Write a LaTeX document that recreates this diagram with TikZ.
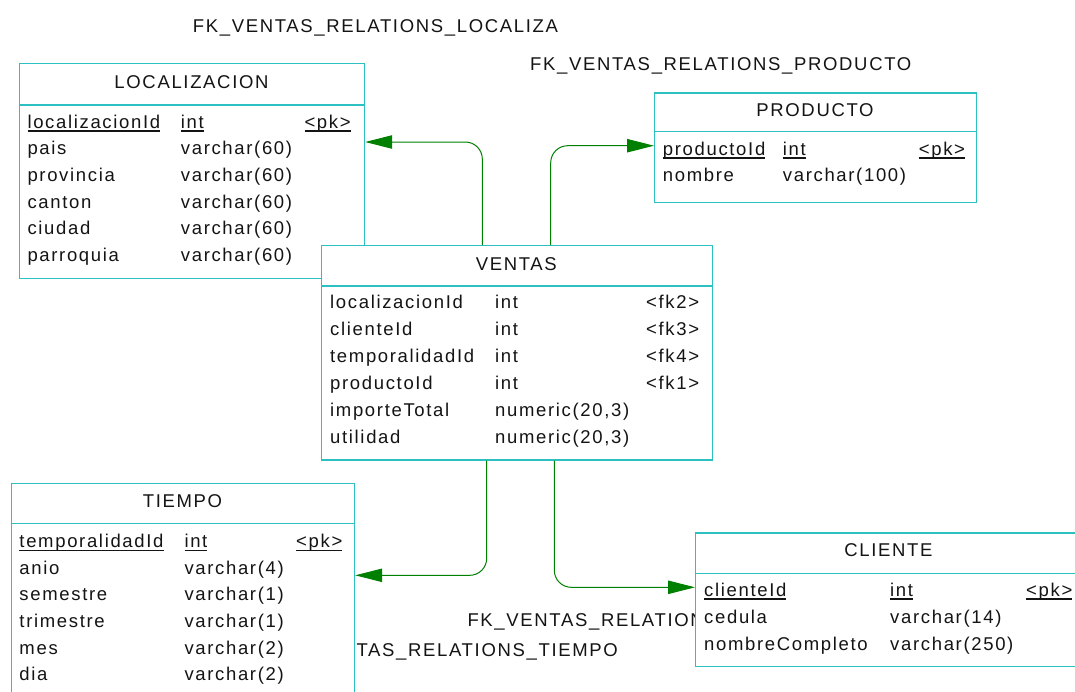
\documentclass[tikz,border=0pt]{standalone}
\usepackage{fontspec}
\setmainfont{Liberation Sans}[LetterSpace=9]
\usetikzlibrary{arrows.meta}

\definecolor{tblborder}{RGB}{45,192,192}
\definecolor{fkgreen}{RGB}{0,128,0}
\definecolor{inktext}{RGB}{20,20,20}

% key columns are underlined at a fixed depth below the baseline
\newcommand\keyline[1]{\setbox0=\hbox{#1}\rlap{\rule[-3.6pt]{\wd0}{1.4pt}}\box0}

\tikzset{
  txt/.style={font=\fontsize{18.5}{20}\selectfont, inner sep=0pt, text=inktext},
  cell/.style={txt, anchor=base west},
  title/.style={txt, anchor=base},
  tbl/.style={draw=tblborder, line width=1.2pt, fill=white, anchor=north west, inner sep=0pt},
  sepline/.style={draw=tblborder, line width=1.2pt},
  fk/.style={draw=fkgreen, line width=1pt, rounded corners=17pt,
    -{Triangle[length=27pt,width=13.4pt,fill=fkgreen]}},
}

\begin{document}
\begin{tikzpicture}[x=1pt,y=-1pt]
\useasboundingbox (0,0) rectangle (1075,691);
\clip (0,0) rectangle (1075,691);
\fill[white] (0,0) rectangle (1075,691);

% relationship names
\node[cell] (lbl-loc)  at (192.7,32.3) {FK\_VENTAS\_RELATIONS\_LOCALIZA};
\node[cell] (lbl-prod) at (530,70)     {FK\_VENTAS\_RELATIONS\_PRODUCTO};
\node[cell] (lbl-cli)  at (467.3,626)  {FK\_VENTAS\_RELATIONS\_CLIENTE};
\node[txt, anchor=base east] (lbl-tie) at (618,656.7) {FK\_VENTAS\_RELATIONS\_TIEMPO};

% ---------- LOCALIZACION ----------
\node[tbl, minimum width=345pt, minimum height=215pt] (loc) at (19,63) {};
\draw[sepline] (loc.west |- 0,105) -- (loc.east |- 0,105);
\node[title] (loc-title) at (191.5,88.3) {LOCALIZACION};
\node[cell] (loc-k-n) at (27.3,128) {\keyline{localizacionId}};
\node[cell] (loc-k-t) at (180.7,128) {\keyline{int}};
\node[cell] (loc-k-k) at (304.3,128) {\keyline{<pk>}};
\foreach \n/\t [count=\i] in {pais/varchar(60), provincia/varchar(60),
    canton/varchar(60), ciudad/varchar(60), parroquia/varchar(60)} {
  \node[cell] (loc-\i-n) at (27.3,128+26.7*\i) {\n};
  \node[cell] (loc-\i-t) at (180.7,128+26.7*\i) {\t};
}

% ---------- PRODUCTO ----------
\node[tbl, minimum width=322pt, minimum height=109.5pt] (prod) at (654,92.3) {};
\draw[sepline] (prod.west |- 0,131.7) -- (prod.east |- 0,131.7);
\node[title] (prod-title) at (815,116.7) {PRODUCTO};
\node[cell] (prod-k-n) at (662.7,155) {\keyline{productoId}};
\node[cell] (prod-k-t) at (782.7,155) {\keyline{int}};
\node[cell] (prod-k-k) at (918.7,155) {\keyline{<pk>}};
\node[cell] (prod-1-n) at (662.7,181.7) {nombre};
\node[cell] (prod-1-t) at (782.7,181.7) {varchar(100)};

% ---------- VENTAS ----------
\node[tbl, minimum width=390.7pt, minimum height=214.3pt] (ventas) at (321,245) {};
\draw[sepline] (ventas.west |- 0,286) -- (ventas.east |- 0,286);
\node[title] (ventas-title) at (516.3,270) {VENTAS};
\foreach \n/\t/\k [count=\i from 0] in {localizacionId/int/<fk2>, clienteId/int/<fk3>,
    temporalidadId/int/<fk4>, productoId/int/<fk1>,
    importeTotal/{numeric(20,3)}/{}, utilidad/{numeric(20,3)}/{}} {
  \node[cell] (ventas-\i-n) at (330,308.3+27*\i) {\n};
  \node[cell] (ventas-\i-t) at (495,308.3+27*\i) {\t};
  \node[cell] (ventas-\i-k) at (646,308.3+27*\i) {\k};
}

% ---------- TIEMPO ----------
\node[tbl, minimum width=343pt, minimum height=250pt] (tiempo) at (11,482.7) {};
\draw[sepline] (tiempo.west |- 0,523.3) -- (tiempo.east |- 0,523.3);
\node[title] (tiempo-title) at (182.5,507.7) {TIEMPO};
\node[cell] (tiempo-k-n) at (19.3,547.3) {\keyline{temporalidadId}};
\node[cell] (tiempo-k-t) at (184.3,547.3) {\keyline{int}};
\node[cell] (tiempo-k-k) at (296,547.3) {\keyline{<pk>}};
\foreach \n/\t [count=\i] in {anio/varchar(4), semestre/varchar(1),
    trimestre/varchar(1), mes/varchar(2), dia/varchar(2)} {
  \node[cell] (tiempo-\i-n) at (19.3,547.3+26.7*\i) {\n};
  \node[cell] (tiempo-\i-t) at (184.3,547.3+26.7*\i) {\t};
}

% ---------- CLIENTE ----------
\node[tbl, minimum width=387pt, minimum height=133.7pt] (cli) at (695,532.3) {};
\draw[sepline] (cli.west |- 0,573.3) -- (cli.east |- 0,573.3);
\node[title] (cli-title) at (888.5,556.7) {CLIENTE};
\node[cell] (cli-k-n) at (704,596) {\keyline{clienteId}};
\node[cell] (cli-k-t) at (890,596) {\keyline{int}};
\node[cell] (cli-k-k) at (1026,596) {\keyline{<pk>}};
\node[cell] (cli-1-n) at (704,623) {cedula};
\node[cell] (cli-1-t) at (890,623) {varchar(14)};
\node[cell] (cli-2-n) at (704,650) {nombreCompleto};
\node[cell] (cli-2-t) at (890,650) {varchar(250)};

% ---------- foreign keys ----------
\draw[fk] (ventas.north -| 482.3,0) |- (loc.east |- 0,142);
\draw[fk] (ventas.north -| 550.7,0) |- (prod.west |- 0,145.7);
\draw[fk] (ventas.south -| 486.7,0) |- (tiempo.east |- 0,575.3);
\draw[fk] (ventas.south -| 554.3,0) |- (cli.west |- 0,587.3);
\end{tikzpicture}
\end{document}
